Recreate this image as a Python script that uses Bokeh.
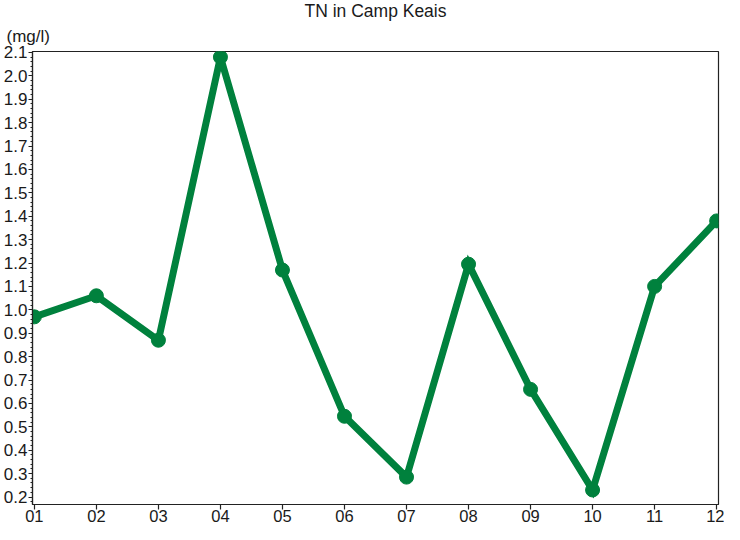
from bokeh.plotting import figure
from bokeh.models import Range1d, FixedTicker, Title
from bokeh.embed import file_html
from bokeh.resources import INLINE

# data
months = ["01", "02", "03", "04", "05", "06", "07", "08", "09", "10", "11", "12"]
month_idx = [1, 2, 3, 4, 5, 6, 7, 8, 9, 10, 11, 12]
tn_values = [0.97, 1.06, 0.87, 2.08, 1.17, 0.545, 0.285, 1.195, 0.66, 0.23, 1.10, 1.38]
y_ticks = [0.2, 0.3, 0.4, 0.5, 0.6, 0.7, 0.8, 0.9, 1.0, 1.1, 1.2, 1.3, 1.4, 1.5, 1.6, 1.7, 1.8, 1.9, 2.0, 2.1]
y_minor = [round(0.18 + 0.02 * i, 2) for i in range(97)]
title_text = "TN in Camp Keais"
unit_text = "(mg/l)"

FONT = "Liberation Sans"
GREEN = "#00813d"
INK = "#1a1a1a"

p = figure(width=724, height=524, output_backend="svg", toolbar_location=None,
           x_range=Range1d(0.97, 12.03), y_range=Range1d(0.168, 2.104),
           min_border_top=0, min_border_right=6, min_border_left=0, min_border_bottom=0)

p.title = Title(text=title_text, align="center", offset=-14, text_font=FONT, text_font_size="17.5px",
                text_font_style="normal", text_color=INK, standoff=-4)

p.add_layout(Title(text=unit_text, align="left", offset=-26, text_font=FONT, text_font_size="17px",
                   text_font_style="normal", text_color=INK, standoff=12), "above")

p.line(month_idx, tn_values, line_color=GREEN, line_width=7, line_join="miter")
p.scatter(month_idx, tn_values, size=14, fill_color=GREEN, line_color=GREEN)

p.xgrid.visible = False
p.ygrid.visible = False
p.outline_line_color = "#222222"
p.outline_line_width = 1.2
p.background_fill_color = "white"
p.border_fill_color = "white"

xa = p.xaxis[0]
xa.ticker = FixedTicker(ticks=month_idx)
xa.major_label_overrides = {i: m for i, m in zip(month_idx, months)}
xa.major_tick_in = 0
xa.major_tick_out = 5
xa.minor_tick_out = 0
xa.minor_tick_in = 0
xa.major_label_standoff = 0
xa.major_label_text_font = FONT
xa.major_label_text_font_size = "16.5px"
xa.major_label_text_color = INK
xa.axis_line_color = "#222222"
xa.axis_line_width = 1.2
xa.major_tick_line_color = "#222222"
xa.major_tick_line_width = 1.2

ya = p.yaxis[0]
ya.ticker = FixedTicker(ticks=y_ticks, minor_ticks=y_minor)
ya.major_label_overrides = {t: f"{t:.1f}" for t in y_ticks}
ya.major_tick_in = 0
ya.major_tick_out = 4
ya.minor_tick_in = 0
ya.minor_tick_out = 2
ya.major_label_standoff = 1
ya.major_label_text_font = FONT
ya.major_label_text_font_size = "17px"
ya.major_label_text_color = INK
ya.axis_line_color = "#222222"
ya.axis_line_width = 1.2
ya.major_tick_line_color = "#222222"
ya.minor_tick_line_color = "#222222"

open("out.html", "w").write(file_html(p, INLINE))
